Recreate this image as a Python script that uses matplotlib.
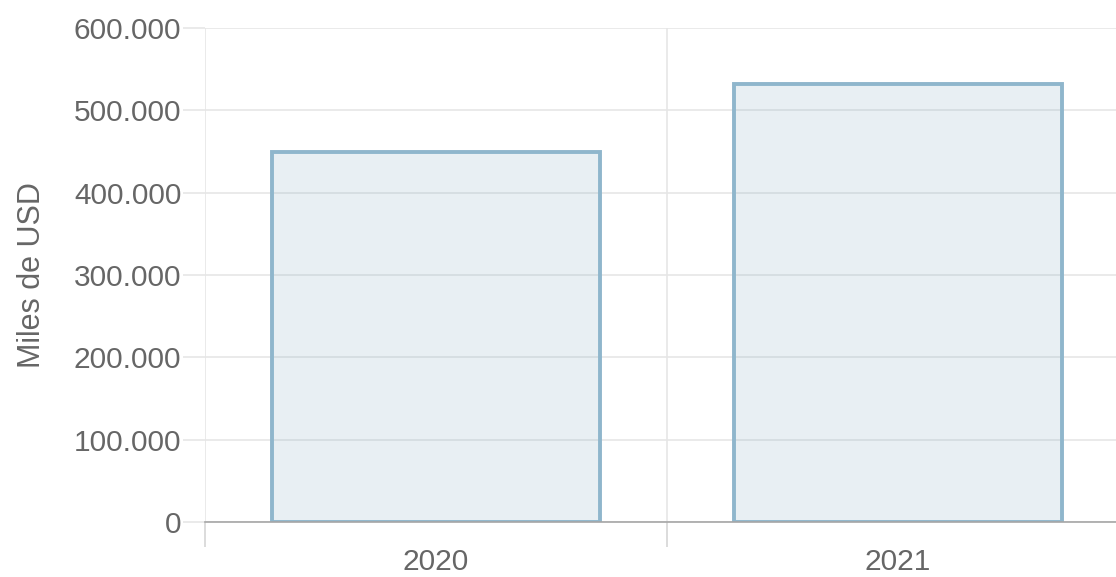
import matplotlib
matplotlib.use('Agg')
import matplotlib.pyplot as plt
import numpy as np
from matplotlib.ticker import FuncFormatter

# data
years = ['2020', '2021']
values = [450000, 532000]
y_ticks = [0, 100000, 200000, 300000, 400000, 500000, 600000]

plt.rcParams['font.family'] = ['Liberation Sans', 'DejaVu Sans']

fig = plt.figure(figsize=(11.16, 5.77), dpi=100)
# right edge runs past the figure, like in the cropped screenshot
ax = fig.add_axes([205 / 1116, 55 / 577, 924 / 1116, 494 / 577])

x = np.arange(len(years))
ax.bar(x, values, width=0.71, facecolor=(0.5, 0.66, 0.75, 0.18),
       edgecolor='#8fb6cc', linewidth=2.8, zorder=1)

ax.set_xlim(-0.5, len(years) - 0.5)
ax.set_ylim(0, 600000)
ax.set_yticks(y_ticks)
ax.yaxis.set_major_formatter(FuncFormatter(lambda v, p: f'{int(v):,}'.replace(',', '.')))

ax.set_xticks(x)
ax.set_xticklabels(years)
ax.set_xticks(np.arange(len(years) + 1) - 0.5, minor=True)

for s in ['top', 'right', 'left']:
    ax.spines[s].set_visible(False)
ax.spines['bottom'].set_color('#a6a6a6')
ax.spines['bottom'].set_linewidth(1.2)

ax.grid(axis='y', color='#e6e6e6', linewidth=1.2, zorder=0)
ax.grid(axis='x', which='minor', color='#e6e6e6', linewidth=1.2, zorder=0)
ax.set_axisbelow(True)

ax.tick_params(axis='y', length=16, color='#e6e6e6', width=1.2, pad=1,
               labelsize=21.5, labelcolor='#666666')
ax.tick_params(axis='x', which='major', length=0, pad=19,
               labelsize=21.5, labelcolor='#666666')
ax.tick_params(axis='x', which='minor', length=18, color='#d6d6d6', width=1.2)

ax.set_ylabel('Miles de USD', fontsize=22, color='#666666', labelpad=19)

fig.savefig('out.png', dpi=100)
